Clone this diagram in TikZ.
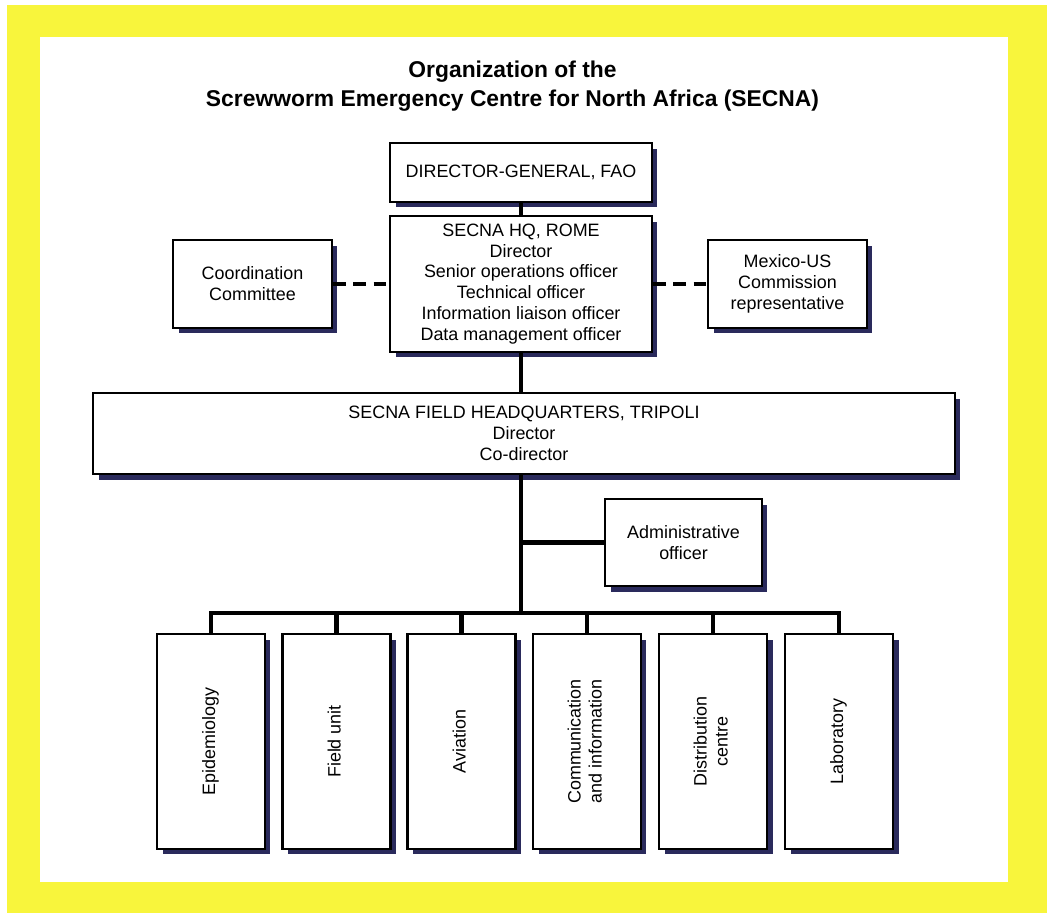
\documentclass[tikz,border=0pt]{standalone}
\usepackage{fontspec}
\setmainfont{Liberation Sans}
\usetikzlibrary{shadows}
\definecolor{frameyellow}{RGB}{248,245,60}
\definecolor{shadowblue}{RGB}{42,42,92}
\tikzset{
  box/.style={draw, line width=1.4pt, fill=white, inner sep=0pt, align=center,
    font=\fontsize{10.2}{11.9}\selectfont,
    drop shadow={shadow xshift=0.11cm, shadow yshift=-0.11cm, fill=shadowblue, opacity=1}},
  conn/.style={line width=2.3pt},
  dashconn/.style={line width=2.5pt, dash pattern=on 7pt off 4.5pt},
}
\begin{document}
\begin{tikzpicture}[x=0.02cm, y=-0.02cm]
        % Frame
        \useasboundingbox (0,0) rectangle (1047,913);
        \fill[white] (0,0) rectangle (1047,913);
        \fill[frameyellow] (7,5) rectangle (1047,913);
        \fill[white] (40,37) rectangle (1008,882);
        % Title
        \node[font=\bfseries\fontsize{13}{16.4}\selectfont, align=center] (title) at (512.5,86.5)
        {Organization of the\\Screwworm Emergency Centre for North Africa (SECNA)};
        % Top boxes
        \node[box, minimum width=5.24cm, minimum height=1.18cm] (dg) at (521,172.5) {DIRECTOR-GENERAL, FAO};
        \node[box, minimum width=5.24cm, minimum height=2.72cm] (hq) at (521,284)
        {SECNA HQ, ROME\\Director\\Senior operations officer\\Technical officer\\Information liaison officer\\Data management officer};
        \node[box, minimum width=3.18cm, minimum height=1.76cm] (coord) at (252.5,284) {Coordination\\Committee};
        \node[box, minimum width=3.18cm, minimum height=1.76cm] (mex) at (787.5,284) {Mexico-US\\Commission\\representative};
        \node[box, minimum width=17.24cm, minimum height=1.62cm] (fhq) at (524,433.5)
        {SECNA FIELD HEADQUARTERS, TRIPOLI\\Director\\Co-director};
        \node[box, minimum width=3.14cm, minimum height=1.74cm] (admin) at (683.5,542.5) {Administrative\\officer};
        % Units
        \foreach \name/\x/\txt in {epi/211/Epidemiology, field/336.5/Field unit, avi/461.5/Aviation,
          comm/587/{Communication\\and information}, dist/713/{Distribution\\centre}, lab/839/Laboratory}
          \node[box, minimum width=2.16cm, minimum height=4.3cm] (\name) at (\x,741.5)
          {\rotatebox{90}{\begin{tabular}{@{}c@{}}\txt\end{tabular}}};
        % Connectors
        \coordinate (bus) at (521,613);
        \draw[conn] (dg) -- (hq);
        \draw[dashconn] (coord) -- (hq);
        \draw[dashconn] (hq) -- (mex);
        \draw[conn] (hq.south) -- (hq.south |- fhq.north);
        \draw[conn] (hq.south |- fhq.south) -- (bus);
        \draw[conn] (admin.west) -- (admin.west -| bus);
        \draw[conn] (epi.north) |- (bus) -| (lab.north);
        \foreach \name in {field,avi,comm,dist}
          \draw[conn] (\name.north) -- (\name.north |- bus);
\end{tikzpicture}
\end{document}
